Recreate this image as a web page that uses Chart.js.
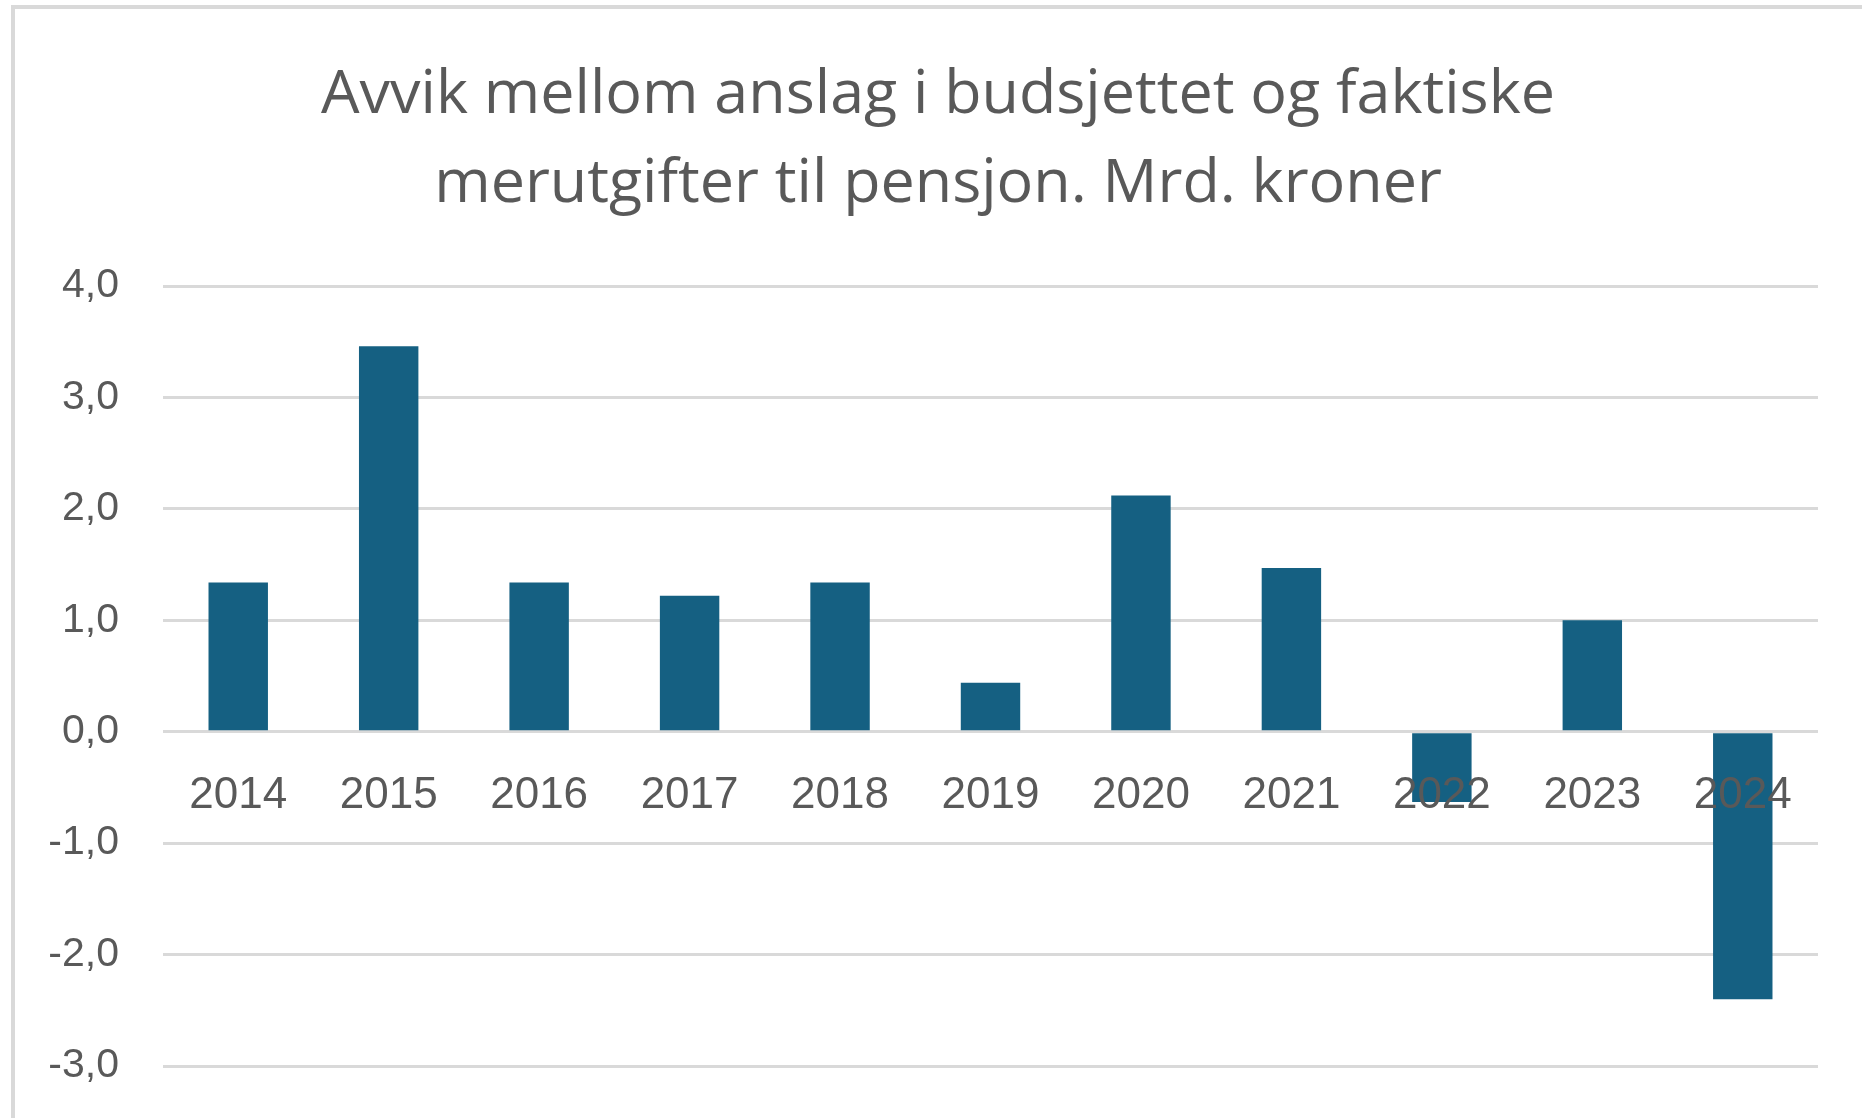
<!DOCTYPE html>
<html>
<head>
<meta charset="utf-8">
<script src="https://cdn.jsdelivr.net/npm/chart.js@4"></script>
<style>
  html, body { margin: 0; padding: 0; background: #fff; }
  canvas { display: block; }
</style>
</head>
<body>
<canvas id="deviationChart" width="1862" height="1118"></canvas>
<script>
const years = ['2014', '2015', '2016', '2017', '2018', '2019', '2020', '2021', '2022', '2023', '2024'];
const deviation = [1.34, 3.46, 1.34, 1.22, 1.34, 0.44, 2.12, 1.47, -0.63, 1.0, -2.4];
const yTickValues = [-3, -2, -1, 0, 1, 2, 3, 4];
const titleLines = [
  'Avvik mellom anslag i budsjettet og faktiske',
  'merutgifter til pensjon. Mrd. kroner'
];

const textGrey = '#595959';
const gridGrey = '#d9d9d9';

// Excel-style frame: only the left and top edges are visible in the crop
const frameBorder = {
  id: 'frameBorder',
  beforeDraw(chart) {
    const { ctx, width, height } = chart;
    ctx.save();
    ctx.fillStyle = '#ffffff';
    ctx.fillRect(0, 0, width, height);
    ctx.strokeStyle = gridGrey;
    ctx.lineWidth = 4;
    ctx.beginPath();
    ctx.moveTo(13, height);
    ctx.lineTo(13, 7);
    ctx.lineTo(width, 7);
    ctx.stroke();
    ctx.restore();
  }
};

// the frame continues past the right edge, so centre the title on the frame
const titleShift = {
  id: 'titleShift',
  afterLayout(chart) {
    chart.titleBlock.left = 58;
  }
};

new Chart(document.getElementById('deviationChart'), {
  type: 'bar',
  plugins: [frameBorder, titleShift],
  data: {
    labels: years,
    datasets: [{
      data: deviation,
      backgroundColor: '#156082',
      borderWidth: 0,
      barPercentage: 0.395,
      categoryPercentage: 1
    }]
  },
  options: {
    responsive: false,
    animation: false,
    devicePixelRatio: 1,
    layout: { padding: { left: 0, right: 44, top: 0, bottom: 52 } },
    plugins: {
      legend: { display: false },
      tooltip: { enabled: false },
      title: {
        display: true,
        text: titleLines,
        color: textGrey,
        font: { family: 'Open Sans', size: 61, weight: 'normal', lineHeight: 89 / 61 },
        padding: { top: 51, bottom: 57 }
      }
    },
    scales: {
      x: {
        position: { y: 0 },
        grid: { display: false, drawTicks: false },
        border: { display: false },
        ticks: {
          z: 1,
          color: textGrey,
          padding: 38,
          maxRotation: 0,
          font: { family: 'Liberation Sans', size: 44 }
        }
      },
      y: {
        min: -3,
        max: 4,
        afterBuildTicks(scale) {
          scale.ticks = yTickValues.map(v => ({ value: v }));
        },
        afterFit(scale) {
          scale.width = 163;
          scale.paddingTop = 25;
          scale.paddingBottom = 25;
        },
        grid: { color: gridGrey, lineWidth: 3, drawTicks: false },
        border: { display: false },
        ticks: {
          color: textGrey,
          padding: 44,
          font: { family: 'Liberation Sans', size: 41 },
          callback: v => v.toFixed(1).replace('.', ',')
        }
      }
    }
  }
});
</script>
</body>
</html>
